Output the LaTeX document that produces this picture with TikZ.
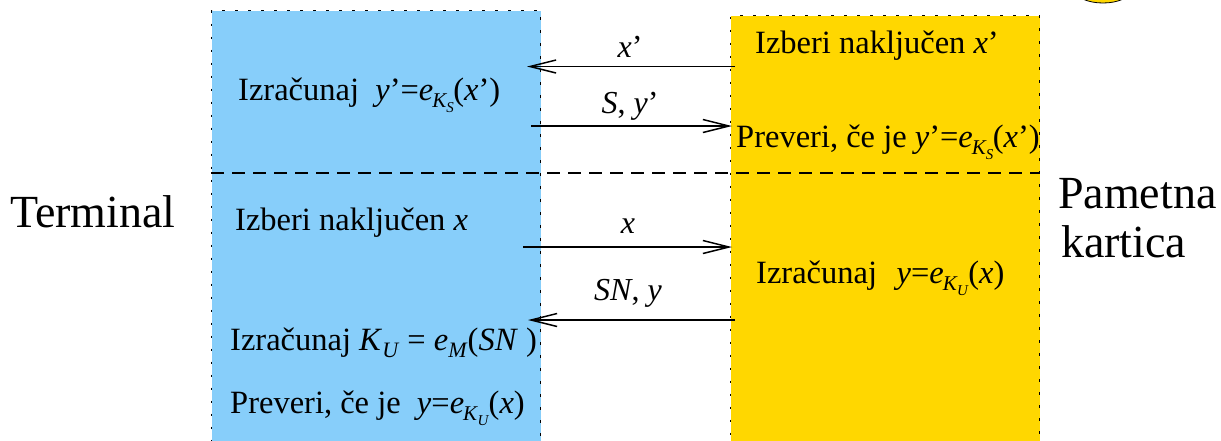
\documentclass[tikz,border=0pt]{standalone}
\usepackage{fontspec}
\setmainfont{Liberation Serif}
\usetikzlibrary{arrows.meta}
\definecolor{tblue}{RGB}{135,206,250}
\definecolor{cgold}{RGB}{255,215,0}
\newcommand{\vi}[1]{\textit{#1}}
\newcommand{\subA}[1]{\raisebox{-7pt}{\fontsize{22}{22}\selectfont\textit{#1}}}
\newcommand{\eKS}{\textit{e}\kern-1pt\raisebox{-7pt}{\fontsize{21}{21}\selectfont\textit{K}\kern-1pt\raisebox{-5pt}{\fontsize{15}{15}\selectfont\textit{S}}}\kern-0.5pt}
\newcommand{\eKU}{\textit{e}\kern-1pt\raisebox{-7pt}{\fontsize{21}{21}\selectfont\textit{K}\kern-0.5pt\raisebox{-5pt}{\fontsize{15}{15}\selectfont\textit{U}}}\kern-0.5pt}
\begin{document}
\begin{tikzpicture}[x=1pt,y=-1pt,
  txt/.style={font=\fontsize{32.5}{36}\selectfont, inner sep=0pt, anchor=base west},
  lbl/.style={font=\fontsize{32}{36}\selectfont, inner sep=0pt, anchor=base},
  big/.style={font=\fontsize{46}{50}\selectfont, inner sep=0pt, anchor=base west},
  panel/.style={draw=black, line width=1.4pt, dash pattern=on 2.5pt off 10.5pt, inner sep=0pt, anchor=north west},
  msg/.style={line width=1.5pt, -{Straight Barb[length=26pt,width=13pt,line width=1.5pt]}},
  sep/.style={line width=1.5pt, dash pattern=on 13pt off 8pt}]
\useasboundingbox (0,0) rectangle (1221,440);
\clip (0,0) rectangle (1221,440);
% panels
\node[panel, fill=tblue, minimum width=329pt, minimum height=460pt] (term) at (211,10) {};
\node[panel, fill=cgold, minimum width=309pt, minimum height=460pt] (card) at (730,15) {};
% small decorative ellipse at top
\draw[fill=cgold, draw=black, line width=0.8pt] (1103,-10) ellipse [x radius=28, y radius=13];
% separator
\coordinate (s1) at (211,173);
\coordinate (s2) at (1040,173);
\draw[sep] (s1) -- (s2);
% side labels
\node[big] (terminal) at (10,227) {Terminal};
\node[big] (pam1) at (1058,208) {Pametna};
\node[big] (pam2) at (1061,257) {kartica};
% texts in terminal
\node[txt] (t1) at (238,100) {Izračunaj\hspace{0.5em}\vi{y}’=\eKS(\vi{x}’)};
\node[txt] (t2) at (235,230) {Izberi naključen \vi{x}};
\node[txt] (t3) at (230,350) {Izračunaj \vi{K}\subA{U} = \vi{e}\subA{M}(\vi{SN} )};
\node[txt] (t4) at (230,413) {Preveri, če je\hspace{0.5em}\vi{y}=\eKU(\vi{x})};
% texts in card
\node[txt] (c1) at (755,53) {Izberi naključen \vi{x}’};
\node[txt] (c2) at (736,147) {Preveri, če je \vi{y}’=\eKS(\vi{x}’)};
\node[txt] (c3) at (756,283) {Izračunaj\hspace{0.6em}\vi{y}=\eKU(\vi{x})};
% messages
\coordinate (m1s) at (735,66.5);
\coordinate (m1e) at (527,66.5);
\coordinate (m2s) at (531,126);
\coordinate (m2e) at (732,126);
\coordinate (m3s) at (523,247);
\coordinate (m3e) at (732,247);
\coordinate (m4s) at (735,320);
\coordinate (m4e) at (528,320);
\draw[msg] (m1s) -- (m1e);
\draw[msg] (m2s) -- (m2e);
\draw[msg] (m3s) -- (m3e);
\draw[msg] (m4s) -- (m4e);
\node[lbl] (l1) at (630,57) {\vi{x}’};
\node[lbl] (l2) at (630,113) {\vi{S}, \vi{y}’};
\node[lbl] (l3) at (628,233) {\vi{x}};
\node[lbl] (l4) at (628,300) {\vi{SN}, \vi{y}};
\end{tikzpicture}
\end{document}
